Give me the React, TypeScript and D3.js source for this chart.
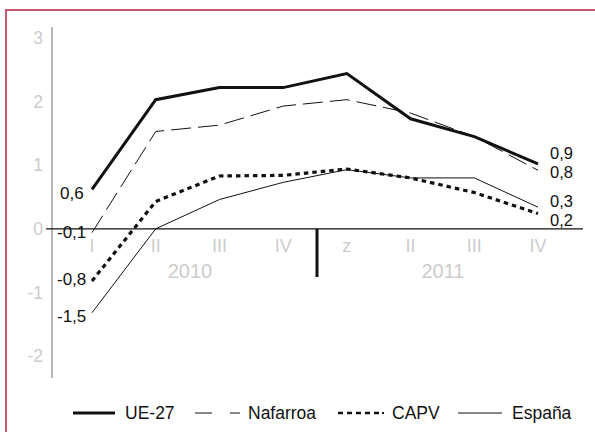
import React from 'react';
import * as d3 from 'd3';

const quarters = ['I', 'II', 'III', 'IV', 'z', 'II', 'III', 'IV'];
const years = ['2010', '2011'];
const yTicks = [3, 2, 1, 0, -1, -2];

const ue27 = [0.62, 2.03, 2.22, 2.22, 2.44, 1.73, 1.45, 1.02];
const nafarroa = [-0.06, 1.53, 1.63, 1.93, 2.03, 1.82, 1.45, 0.92];
const capv = [-0.82, 0.43, 0.83, 0.84, 0.94, 0.8, 0.57, 0.24];
const espana = [-1.32, 0.0, 0.46, 0.73, 0.93, 0.8, 0.8, 0.34];

const startLabels = ['0,6', '-0,1', '-0,8', '-1,5'];
const endLabels = ['0,9', '0,8', '0,3', '0,2'];

const series = [
  { name: 'UE-27', values: ue27, width: 3, dash: '' },
  { name: 'Nafarroa', values: nafarroa, width: 1, dash: '20,7' },
  { name: 'CAPV', values: capv, width: 3.2, dash: '4.5,4' },
  { name: 'España', values: espana, width: 1, dash: '' },
];

const font = 'Liberation Sans, Arial, Helvetica, sans-serif';

export default function App() {
  const x = d3.scaleLinear().domain([0, quarters.length - 1]).range([92, 538]);
  const y = d3.scaleLinear().domain([-2, 3]).range([356, 38]);

  const line = d3.line<number>()
    .x((d, i) => x(i))
    .y(d => y(d));

  // label baselines near the start and end of each series
  const startY = [199, 238, 285, 322];
  const endY = [159, 178, 207, 226];

  return (
    <svg width={595} height={432} style={{ position: 'absolute', left: 0, top: 0 }} fontFamily={font}>
      <rect x={6} y={10} width={620} height={440} fill="white" stroke="#c9566e" strokeWidth={2} />

      {/* y axis */}
      <line x1={52} x2={52} y1={27} y2={378} stroke="#888" strokeWidth={1.2} />
      {yTicks.map(t => (
        <text key={t} x={43} y={y(t)} dy="0.35em" textAnchor="end" fill="#cccccc" fontSize={17.5}>
          {t}
        </text>
      ))}

      {/* zero line and year separator */}
      <line x1={46} x2={583} y1={y(0)} y2={y(0)} stroke="#111" strokeWidth={1.2} />
      <line x1={317} x2={317} y1={y(0)} y2={277} stroke="#111" strokeWidth={3} />

      {quarters.map((q, i) => (
        <text key={i} x={x(i)} y={252} textAnchor="middle" fill="#cccccc" fontSize={18}>
          {q}
        </text>
      ))}
      {years.map((yr, i) => (
        <text key={yr} x={i === 0 ? 190 : 443} y={278} textAnchor="middle" fill="#cccccc" fontSize={20}>
          {yr}
        </text>
      ))}

      {series.map(s => (
        <path
          key={s.name}
          d={line(s.values) || ''}
          fill="none"
          stroke="#111"
          strokeWidth={s.width}
          strokeDasharray={s.dash || undefined}
        />
      ))}

      {startLabels.map((l, i) => (
        <text key={'s' + i} x={i === 0 ? 60 : 57} y={startY[i]} fill="#111" fontSize={17}>
          {l}
        </text>
      ))}
      {endLabels.map((l, i) => (
        <text key={'e' + i} x={550} y={endY[i]} fill="#111" fontSize={16.5}>
          {l}
        </text>
      ))}

      {/* legend */}
      <g fontSize={17.5} fill="#111">
        <line x1={73} x2={115} y1={413} y2={413} stroke="#111" strokeWidth={3} />
        <text x={125} y={419}>UE-27</text>
        <line x1={195} x2={212} y1={413} y2={413} stroke="#111" strokeWidth={1} />
        <line x1={230} x2={240} y1={413} y2={413} stroke="#111" strokeWidth={1} />
        <text x={248} y={419}>Nafarroa</text>
        <line x1={338} x2={380} y1={413} y2={413} stroke="#111" strokeWidth={2.5} strokeDasharray="5,4" />
        <line x1={382} x2={384} y1={413} y2={413} stroke="#111" strokeWidth={2} />
        <text x={392} y={419}>CAPV</text>
        <line x1={458} x2={502} y1={413} y2={413} stroke="#111" strokeWidth={1} />
        <text x={512} y={419}>España</text>
      </g>
    </svg>
  );
}
